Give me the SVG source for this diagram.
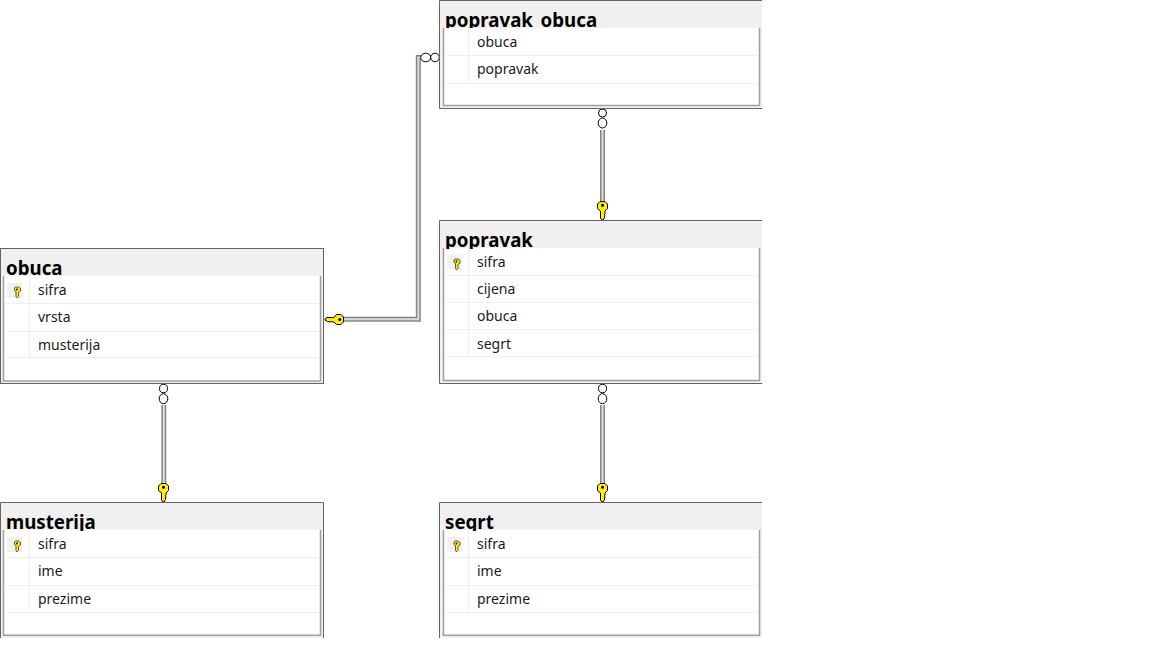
<svg xmlns="http://www.w3.org/2000/svg" width="1152" height="648" viewBox="0 0 1152 648">
<style>
.f{fill:#f0f0f0}
.o{fill:none;stroke:#646464;stroke-width:1}
.i{fill:none;stroke:#a0a0a0;stroke-width:1.500}
.w{fill:#fff}
.t{font:bold 18.700px "Noto Sans","Open Sans",sans-serif;fill:#000}
.c{font:14px "Noto Sans","Open Sans",sans-serif;fill:#1a1a1a}
.r{stroke:#efefef;stroke-width:1;fill:none}
.k{fill:#f0f0f0}
.w1{fill:none;stroke:#858585;stroke-width:5}
.w2{fill:none;stroke:#dcdcdc;stroke-width:2}
.e{fill:#fff;stroke:#000;stroke-width:1}
.y{fill:#ffee00;stroke:#000;stroke-width:1}
.h{fill:#000}
</style>
<defs>
<clipPath id="c1"><rect x="0" y="0" width="1152" height="28"/></clipPath>
<clipPath id="c2"><rect x="0" y="220" width="1152" height="29"/></clipPath>
<clipPath id="c3"><rect x="0" y="248" width="1152" height="29"/></clipPath>
<clipPath id="c4"><rect x="0" y="502" width="1152" height="29"/></clipPath>
<g id="smallkey"><path d="M-1.500,-5 h3 l2,1.500 v2.500 l-2,1.500 v4 l-1,1 h-1 l-0.500,-1 v-5 l-1.500,-1 v-2.500 z" fill="#ffee00" stroke="#333" stroke-width="0.800"/><circle cx="0" cy="-2.500" r="0.900" fill="#000"/></g>
<g id="bigkey"><path class="y" d="M-2.500,-5 H2.500 L5,-2.500 V2 L2.500,4.500 V6.500 L2,7.500 2.500,8.500 2,9.500 2,11 0.500,13.500 H-0.500 L-2,11.500 V4.500 L-5,2 V-2.500 Z"/><circle class="h" cx="0" cy="-1.300" r="1.500"/></g>
</defs>
<g id="connectors">
<path class="w1" d="M440,57.500 H418.300 V319.300 H342"/><path class="w2" d="M440,57.500 H418.300 V319.300 H342"/>
<path class="w1" d="M602.500,130 V203"/><path class="w2" d="M602.500,130 V203"/>
<path class="w1" d="M163.800,405 V484"/><path class="w2" d="M163.800,405 V484"/>
<path class="w1" d="M602.500,405 V484"/><path class="w2" d="M602.500,405 V484"/>
<g><ellipse class="e" cx="425.700" cy="57.500" rx="5" ry="4.300"/><ellipse class="e" cx="435" cy="57.500" rx="4.300" ry="4.300"/></g>
<g><ellipse class="e" cx="602.500" cy="113" rx="4" ry="4"/><ellipse class="e" cx="602.500" cy="123" rx="4.300" ry="5"/></g>
<g><ellipse class="e" cx="163.500" cy="388.500" rx="4" ry="4.200"/><ellipse class="e" cx="163.500" cy="398.700" rx="4.300" ry="5"/></g>
<g><ellipse class="e" cx="602.500" cy="388.500" rx="4" ry="4.200"/><ellipse class="e" cx="602.500" cy="398.700" rx="4.300" ry="5"/></g>
<use href="#bigkey" transform="translate(602.500,206.600)"/>
<use href="#bigkey" transform="translate(163.500,488.500)"/>
<use href="#bigkey" transform="translate(602.500,488.500)"/>
<use href="#bigkey" transform="translate(338.500,319.500) rotate(90)"/>
</g>
<g id="popravak_obuca">
<rect class="f" x="440" y="1" width="322" height="107"/>
<rect class="w" x="443.500" y="28" width="316" height="77"/>
<path class="o" d="M762,0.500 H439.500 V108.500 H762"/>
<path class="i" d="M443.500,28 V105.500 H759.500 V28"/>
<text class="t" x="445" y="27" clip-path="url(#c1)">popravak_obuca</text>
<path class="r" d="M468.500,28 V82 M444,55.500 H757 M444,83.500 H757"/>
<text class="c" x="477" y="47">obuca</text><text class="c" x="477" y="74">popravak</text>
</g>
<g id="popravak">
<rect class="f" x="440" y="221" width="322" height="162"/>
<rect class="w" x="443.500" y="248" width="316" height="132"/>
<path class="o" d="M762,220.500 H439.500 V383.500 H762"/>
<path class="i" d="M443.500,248 V380.500 H759.500 V248"/>
<text class="t" x="445" y="247" clip-path="url(#c2)">popravak</text>
<path class="r" d="M468.500,248 V356 M444,275.500 H757 M444,302.500 H757 M444,329.500 H757 M444,356.500 H757"/>
<rect class="k" x="447" y="255" width="15" height="15"/><use href="#smallkey" transform="translate(456.500,264)"/>
<text class="c" x="477" y="267">sifra</text><text class="c" x="477" y="294">cijena</text><text class="c" x="477" y="321">obuca</text><text class="c" x="477" y="349">segrt</text>
</g>
<g id="obuca">
<rect class="f" x="1" y="249" width="322" height="134"/>
<rect class="w" x="3.500" y="276" width="317" height="105"/>
<rect class="o" x="0.500" y="248.500" width="323" height="135"/>
<path class="i" d="M3.500,276 V381 H320.500 V276"/>
<text class="t" x="6" y="275" clip-path="url(#c3)">obuca</text>
<path class="r" d="M29.500,276 V357 M4,303.500 H318 M4,331.500 H318 M4,357.500 H318"/>
<rect class="k" x="7" y="283" width="15" height="15"/><use href="#smallkey" transform="translate(17,292)"/>
<text class="c" x="38" y="295">sifra</text><text class="c" x="38" y="322">vrsta</text><text class="c" x="38" y="350">musterija</text>
</g>
<g id="musterija">
<rect class="f" x="1" y="503" width="322" height="135"/>
<rect class="w" x="3.500" y="530" width="317" height="105"/>
<path class="o" d="M0.500,638 V502.500 H323.500 V638"/>
<path class="i" d="M3.500,530 V635.300 H320.500 V530"/>
<text class="t" x="6" y="529" clip-path="url(#c4)">musterija</text>
<path class="r" d="M29.500,530 V611 M4,557.500 H318 M4,585.500 H318 M4,612.500 H318"/>
<rect class="k" x="7" y="537" width="15" height="15"/><use href="#smallkey" transform="translate(17,546)"/>
<text class="c" x="38" y="549">sifra</text><text class="c" x="38" y="576">ime</text><text class="c" x="38" y="604">prezime</text>
</g>
<g id="segrt">
<rect class="f" x="440" y="503" width="322" height="135"/>
<rect class="w" x="443.500" y="530" width="316" height="105"/>
<path class="o" d="M762,502.500 H439.500 V638"/>
<path class="i" d="M443.500,530 V635.300 H759.500 V530"/>
<text class="t" x="445" y="529" clip-path="url(#c4)">segrt</text>
<path class="r" d="M468.500,530 V611 M444,557.500 H757 M444,585.500 H757 M444,612.500 H757"/>
<rect class="k" x="447" y="537" width="15" height="15"/><use href="#smallkey" transform="translate(456.500,546)"/>
<text class="c" x="477" y="549">sifra</text><text class="c" x="477" y="576">ime</text><text class="c" x="477" y="604">prezime</text>
</g>
</svg>
